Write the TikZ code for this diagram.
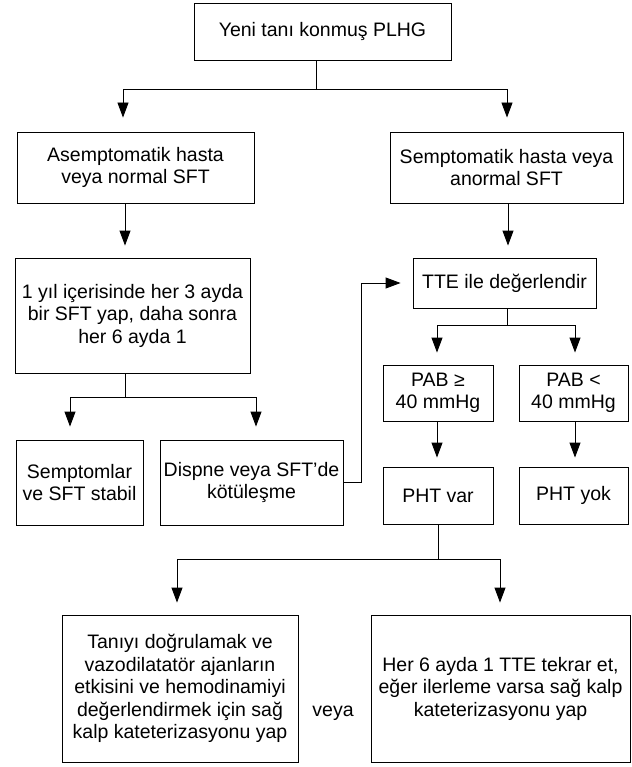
\documentclass[tikz,border=0pt]{standalone}
\usepackage{fontspec}
\setmainfont{Liberation Sans}
\usetikzlibrary{arrows.meta}
\newcommand{\dgfont}{\fontsize{19.5pt}{22.5pt}\selectfont}
\begin{document}
\begin{tikzpicture}[x=1pt,y=-1pt,
  box/.style={draw, line width=0.9pt, inner sep=0pt, align=center, font=\dgfont},
  conn/.style={line width=0.9pt},
  arr/.style={conn, -{Triangle[length=15pt,width=11pt]}, shorten >=12pt}]
\fill[white] (0,0) rectangle (631,767);
\useasboundingbox (0,0) rectangle (631,767);
% boxes
\node[box, minimum width=257pt, minimum height=57pt] (top) at (322.5,31.5) {Yeni tanı konmuş PLHG};
\node[box, minimum width=237pt, minimum height=71pt] (asym) at (135.5,167.5) {Asemptomatik hasta\\veya normal SFT};
\node[box, minimum width=233pt, minimum height=71pt] (sym) at (506.5,167.5) {Semptomatik hasta veya\\anormal SFT};
\node[box, minimum width=235pt, minimum height=115pt] (yil) at (132.5,315.5) {1 yıl içerisinde her 3 ayda\\bir SFT yap, daha sonra\\her 6 ayda 1};
\node[box, minimum width=183pt, minimum height=50pt] (tte) at (504.5,283) {TTE ile değerlendir};
\node[box, minimum width=110pt, minimum height=56pt] (pabge) at (438,393) {PAB ≥\\40 mmHg};
\node[box, minimum width=109pt, minimum height=56pt] (pablt) at (573.5,393) {PAB <\\40 mmHg};
\node[box, minimum width=110pt, minimum height=57pt] (phtvar) at (438,495.5) {PHT var};
\node[box, minimum width=109pt, minimum height=57pt] (phtyok) at (573.5,495.5) {PHT yok};
\node[box, minimum width=127pt, minimum height=85pt] (semp) at (79.5,482.5) {Semptomlar\\ve SFT stabil};
\node[box, minimum width=183pt, minimum height=85pt] (dispne) at (251.5,482.5) {Dispne veya SFT’de\\kötüleşme};
\node[box, minimum width=236pt, minimum height=147pt] (tani) at (180,688.5) {Tanıyı doğrulamak ve\\vazodilatatör ajanların\\etkisini ve hemodinamiyi\\değerlendirmek için sağ\\kalp kateterizasyonu yap};
\node[box, minimum width=259pt, minimum height=147pt] (her) at (500.5,688.5) {Her 6 ayda 1 TTE tekrar et,\\eğer ilerleme varsa sağ kalp\\kateterizasyonu yap};
\node[font=\dgfont, inner sep=0pt] (veya) at (333,713) {veya};
% column coordinates
\coordinate (xL1) at (123,0);
\coordinate (xR1) at (507,0);
\coordinate (xA) at (125,0);
\coordinate (xSL) at (70,0);
\coordinate (xSR) at (256,0);
\coordinate (xF) at (361,0);
\coordinate (xS) at (508,0);
\coordinate (xP) at (437,0);
\coordinate (xQ) at (575,0);
\coordinate (xBL) at (177,0);
\coordinate (xBR) at (500,0);
\coordinate (sp1) at (316,89);
\coordinate (sp2) at (125,397);
\coordinate (sp3) at (507,325);
\coordinate (sp4) at (438,559);
% connectors
\draw[conn] (top.south -| sp1) -- (sp1);
\draw[arr, shorten >=14pt] (sp1) -| (asym.north -| xL1);
\draw[arr, shorten >=14pt] (sp1) -| (sym.north -| xR1);
\draw[arr] (asym.south -| xA) -- (yil.north -| xA);
\draw[conn] (yil.south -| sp2) -- (sp2);
\draw[arr, shorten >=13pt] (sp2) -| (semp.north -| xSL);
\draw[arr, shorten >=13pt] (sp2) -| (dispne.north -| xSR);
\draw[arr] (dispne.east) -| (xF |- tte.west) -- (tte.west);
\draw[arr] (sym.south -| xS) -- (tte.north -| xS);
\draw[conn] (tte.south -| sp3) -- (sp3);
\draw[arr] (sp3) -| (pabge.north -| xP);
\draw[arr] (sp3) -| (pablt.north -| xQ);
\draw[arr, shorten >=9pt] (pabge.south -| xP) -- (phtvar.north -| xP);
\draw[arr, shorten >=9pt] (pablt.south -| xQ) -- (phtyok.north -| xQ);
\draw[conn] (phtvar.south -| sp4) -- (sp4);
\draw[arr] (sp4) -| (tani.north -| xBL);
\draw[arr] (sp4) -| (her.north -| xBR);
\end{tikzpicture}
\end{document}
